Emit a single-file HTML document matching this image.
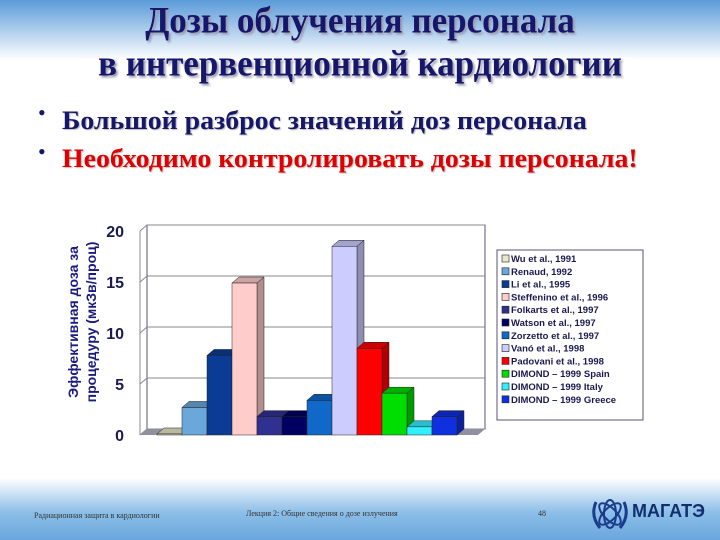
<!DOCTYPE html>
<html><head><meta charset="utf-8"><style>
body{margin:0;width:720px;height:540px;overflow:hidden;background:#fff;position:relative;font-family:"Liberation Serif",serif}
.hdr{position:absolute;left:0;top:0;width:720px;height:60px;background:linear-gradient(#5b9bd8,#fff)}
.ftr{position:absolute;left:0;top:478px;width:720px;height:62px;background:linear-gradient(#fff,#8dbfe8 55%,#6aa6dc)}
.t{position:absolute;left:0;width:720px;text-align:center;font-weight:bold;font-size:35px;color:#16166a;text-shadow:2px 2px 2px #9a9ab0;transform:scaleY(1.05)}
.b{position:absolute;left:62px;font-weight:bold;font-size:26px;text-shadow:1px 1px 1px #bbb;transform-origin:left top;transform:scaleX(1.07);white-space:nowrap}
.dot{position:absolute;left:38px;font-size:22px;color:#16166a}
.f{position:absolute;font-size:8px;color:#333}
</style></head><body>
<div class="hdr"></div>
<div class="ftr"></div>
<div class="t" style="top:1px">Дозы облучения персонала</div>
<div class="t" style="top:44px">в интервенционной кардиологии</div>
<div class="dot" style="top:100px">•</div>
<div class="b" style="top:106px;color:#16166a">Большой разброс значений доз персонала</div>
<div class="dot" style="top:139px">•</div>
<div class="b" style="top:144px;color:#e00000">Необходимо контролировать дозы персонала!</div>
<svg id="c" width="720" height="540" style="position:absolute;left:0;top:0"></svg>
<div class="f" style="left:34px;top:511px">Радиационная защита в кардиологии</div>
<div class="f" style="left:246px;top:509px">Лекция 2: Общие сведения о дозе излучения</div>
<div class="f" style="left:538px;top:509px">48</div>
<svg style="position:absolute;left:590px;top:494px" width="40" height="40">
<ellipse cx="20" cy="20" rx="6" ry="14" fill="none" stroke="#1a3c8c" stroke-width="2"/>
<ellipse cx="20" cy="20" rx="14" ry="6" fill="none" stroke="#1a3c8c" stroke-width="2" transform="rotate(45 20 20)"/>
<ellipse cx="20" cy="20" rx="14" ry="6" fill="none" stroke="#1a3c8c" stroke-width="2" transform="rotate(-45 20 20)"/>
<path d="M6 8 Q0 22 10 34 M34 8 Q40 22 30 34" fill="none" stroke="#1a3c8c" stroke-width="3"/></svg>
<div style="position:absolute;left:632px;top:501px;font:bold 18px 'Liberation Sans',sans-serif;color:#12306e">МАГАТЭ</div>
<script>
const labels=["Wu et al., 1991","Renaud, 1992","Li et al., 1995","Steffenino et al., 1996","Folkarts et al., 1997","Watson et al., 1997","Zorzetto et al., 1997","Vanó et al., 1998","Padovani et al., 1998","DIMOND – 1999  Spain","DIMOND – 1999  Italy","DIMOND – 1999  Greece"];
const values=[0.1,2.7,7.8,14.9,1.8,1.8,3.4,18.5,8.5,4.1,0.8,1.8];
const colors=["#e8e8c8","#6aa8dc","#0a3c96","#ffcccc","#303090","#000060","#1068c8","#ccccff","#ff0000","#00dd00","#30f0ff","#1030e0"];
const ticks=[0,5,10,15,20];
const NS="http://www.w3.org/2000/svg",svg=document.getElementById('c');
const x0=147,x1=485,yb=435,yt=231,dx=7,dy=6;
const y=v=>yb-(v/20)*(yb-yt);
function el(t,a,p){const e=document.createElementNS(NS,t);for(const k in a)e.setAttribute(k,a[k]);(p||svg).appendChild(e);return e;}
el('rect',{x:x0,y:yt-dy,width:x1-x0,height:yb-yt,fill:'#fff',stroke:'#555577'});
ticks.forEach(t=>{const g=el('line',{x1:x0,x2:x1,y1:y(t)-dy,y2:y(t)-dy,stroke:'#888'});


el('line',{x1:x0-dx,x2:x0,y1:y(t),y2:y(t)-dy,stroke:'#888'});
const tx=el('text',{x:124,y:y(t)+6,'text-anchor':'end','font-family':'Liberation Sans,sans-serif','font-weight':'bold','font-size':16,fill:'#1a1a50'});
tx.textContent=t;

});
el('line',{x1:x0-dx,x2:x0-dx,y1:yt,y2:yb,stroke:'#888'});
el('polygon',{points:`${x0-dx},${yb} ${x0},${yb-dy} ${x1},${yb-dy} ${x1-dx},${yb}`,fill:'#9090a0'});
const sw=25,bx=157;
function shade(c,f){const n=parseInt(c.slice(1),16);let r=n>>16,g=(n>>8)&255,b=n&255;return `rgb(${r*f|0},${g*f|0},${b*f|0})`;}
values.forEach((v,i)=>{const l=bx+i*sw,r=l+sw,top=y(v);
const g=el('g',{});


el('polygon',{points:`${r},${yb} ${r},${top} ${r+dx},${top-dy} ${r+dx},${yb-dy}`,fill:shade(colors[i],0.7),stroke:'#222',"stroke-width":0.5},g);
el('polygon',{points:`${l},${top} ${l+dx},${top-dy} ${r+dx},${top-dy} ${r},${top}`,fill:shade(colors[i],0.8),stroke:'#222',"stroke-width":0.5},g);
el('rect',{x:l,y:top,width:sw,height:yb-top,fill:colors[i],stroke:'#222',"stroke-width":0.5},g);});
const yl=el('text',{transform:'translate(78,322) rotate(-90)','text-anchor':'middle','font-family':'Liberation Sans,sans-serif','font-weight':'bold','font-size':14,fill:'#1a1a80'});


el('tspan',{x:0,dy:0},yl).textContent='Эффективная  доза за';
el('tspan',{x:0,dy:18},yl).textContent='процедуру (мкЗв/проц)';
el('rect',{x:497,y:250,width:146,height:170,fill:'#fff',stroke:'#555577'});
labels.forEach((s,i)=>{const yy=262+i*12.8;
const sq=el('rect',{x:502,y:yy-7,width:7,height:7,fill:colors[i],stroke:'#222','stroke-width':0.6});


const t=el('text',{x:511,y:yy,'font-family':'Liberation Sans,sans-serif','font-weight':'bold','font-size':9.5,fill:'#1a1a50'});
t.textContent=s;

});
</script>
</body></html>
